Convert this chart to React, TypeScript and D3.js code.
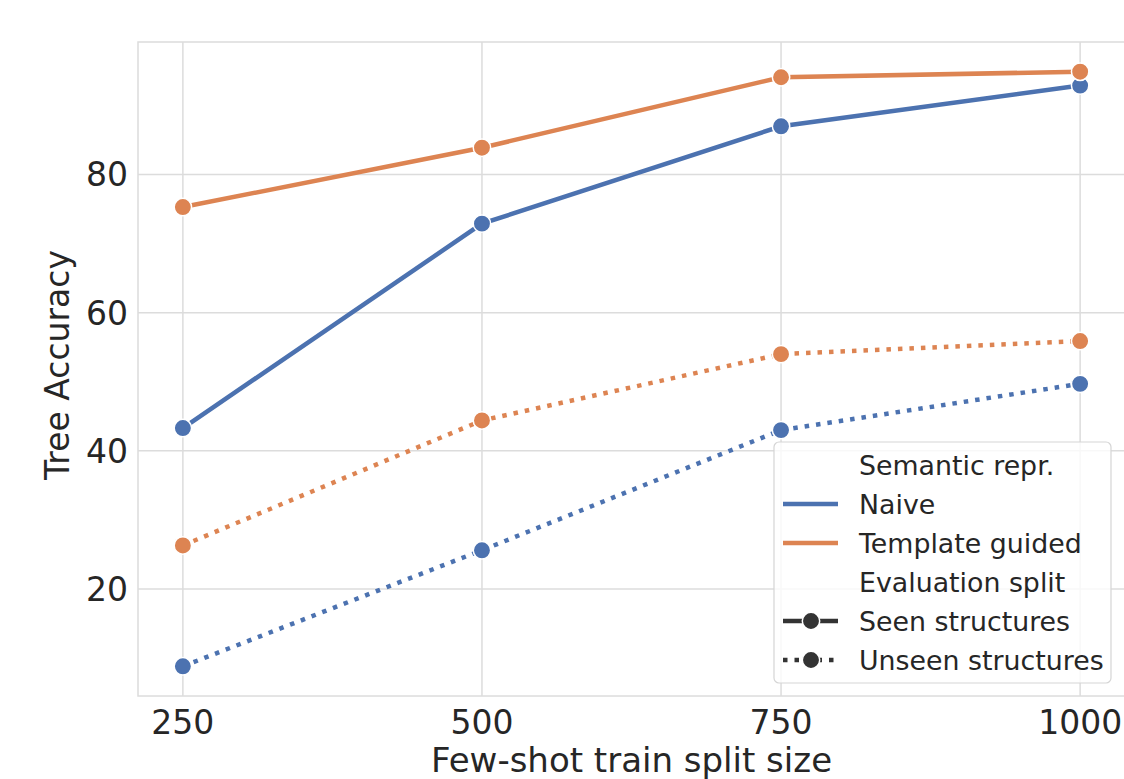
import React from 'react';
import * as d3 from 'd3';

const W = 1124;
const H = 779;
const MARGIN = { top: 42, right: -1, bottom: 83, left: 138 };

const splitSizes = [250, 500, 750, 1000];
const naiveSeen = [43.3, 72.9, 87.0, 92.9];
const templateSeen = [75.3, 83.9, 94.1, 94.9];
const naiveUnseen = [8.8, 25.6, 43.0, 49.7];
const templateUnseen = [26.3, 44.4, 54.0, 55.9];
const yTicks = [20, 40, 60, 80];

const BLUE = '#4c72b0';
const ORANGE = '#dd8452';
const TEXT = '#262626';
const GRID = '#dcdcdc';
const FONT = 'DejaVu Sans, sans-serif';

const series = [
  { name: 'Naive', split: 'seen', color: BLUE, values: naiveSeen },
  { name: 'Template guided', split: 'seen', color: ORANGE, values: templateSeen },
  { name: 'Naive', split: 'unseen', color: BLUE, values: naiveUnseen },
  { name: 'Template guided', split: 'unseen', color: ORANGE, values: templateUnseen },
];

const legendRows = [
  { label: 'Semantic repr.', kind: 'title' },
  { label: 'Naive', kind: 'hue', color: BLUE },
  { label: 'Template guided', kind: 'hue', color: ORANGE },
  { label: 'Evaluation split', kind: 'title' },
  { label: 'Seen structures', kind: 'style', dash: null },
  { label: 'Unseen structures', kind: 'style', dash: '4.5 7' },
];

export default function App() {
  const innerW = W - MARGIN.left - MARGIN.right;
  const innerH = H - MARGIN.top - MARGIN.bottom;

  // matplotlib-style 5% margins
  const xPad = (1000 - 250) * 0.05;
  const x = d3.scaleLinear().domain([250 - xPad, 1000 + xPad]).range([0, innerW]);
  const yMin = d3.min(naiveUnseen)!;
  const yMax = d3.max(templateSeen)!;
  const yPad = (yMax - yMin) * 0.05;
  const y = d3.scaleLinear().domain([yMin - yPad, yMax + yPad]).range([innerH, 0]);

  const line = d3.line<number>()
    .x((_, i) => x(splitSizes[i]))
    .y(d => y(d));

  const legend = { x: 774 - MARGIN.left, y: 442 - MARGIN.top, w: 337, h: 241, row: 39 };

  return (
    <svg width={W} height={H} style={{ position: 'absolute', left: 0, top: 0, background: '#fff' }}
      fontFamily={FONT}>
      <g transform={`translate(${MARGIN.left},${MARGIN.top})`}>
        {/* grid */}
        {yTicks.map(t => (
          <line key={`gy${t}`} x1={0} x2={innerW} y1={y(t)} y2={y(t)} stroke={GRID} strokeWidth={1.5} />
        ))}
        {splitSizes.map(t => (
          <line key={`gx${t}`} y1={0} y2={innerH} x1={x(t)} x2={x(t)} stroke={GRID} strokeWidth={1.5} />
        ))}
        <rect x={0} y={0} width={innerW} height={innerH} fill="none" stroke={GRID} strokeWidth={1.5} />

        {/* lines */}
        {series.map((s, i) => (
          <path key={`l${i}`} d={line(s.values)!} fill="none" stroke={s.color} strokeWidth={4.5}
            strokeDasharray={s.split === 'unseen' ? '4.5 7' : undefined} />
        ))}
        {series.map((s, i) => s.values.map((v, j) => (
          <circle key={`m${i}-${j}`} cx={x(splitSizes[j])} cy={y(v)} r={8.7}
            fill={s.color} stroke="#fff" strokeWidth={1.5} />
        )))}

        {/* tick labels */}
        {yTicks.map(t => (
          <text key={`ty${t}`} x={-10} y={y(t)} dy="0.36em" textAnchor="end" fontSize={33} fill={TEXT}>{t}</text>
        ))}
        {splitSizes.map(t => (
          <text key={`tx${t}`} x={x(t)} y={innerH + 38} textAnchor="middle" fontSize={33} fill={TEXT}>{t}</text>
        ))}

        {/* axis labels */}
        <text x={innerW / 2} y={730} textAnchor="middle" fontSize={34} fill={TEXT}>
          Few-shot train split size
        </text>
        <text transform={`translate(${-69},${innerH / 2 - 4}) rotate(-90)`} textAnchor="middle"
          fontSize={33} fill={TEXT}>Tree Accuracy</text>

        {/* legend */}
        <g transform={`translate(${legend.x},${legend.y})`}>
          <rect x={0} y={0} width={legend.w} height={legend.h} rx={5} fill="#fff" fillOpacity={0.8}
            stroke="#d5d5d5" strokeWidth={1.2} />
          {legendRows.map((r, i) => {
            const cy = 23 + i * legend.row;
            return (
              <g key={`lg${i}`}>
                {r.kind === 'hue' && (
                  <line x1={9} x2={64} y1={cy} y2={cy} stroke={r.color} strokeWidth={4.5} />
                )}
                {r.kind === 'style' && (
                  <g>
                    <line x1={9} x2={64} y1={cy} y2={cy} stroke="#333" strokeWidth={4.5}
                      strokeDasharray={r.dash ?? undefined} />
                    <circle cx={37} cy={cy} r={8.7} fill="#333" stroke="#fff" strokeWidth={1.5} />
                  </g>
                )}
                <text x={85} y={cy} dy="0.36em" fontSize={26.8} fill={TEXT}>{r.label}</text>
              </g>
            );
          })}
        </g>
      </g>
    </svg>
  );
}
